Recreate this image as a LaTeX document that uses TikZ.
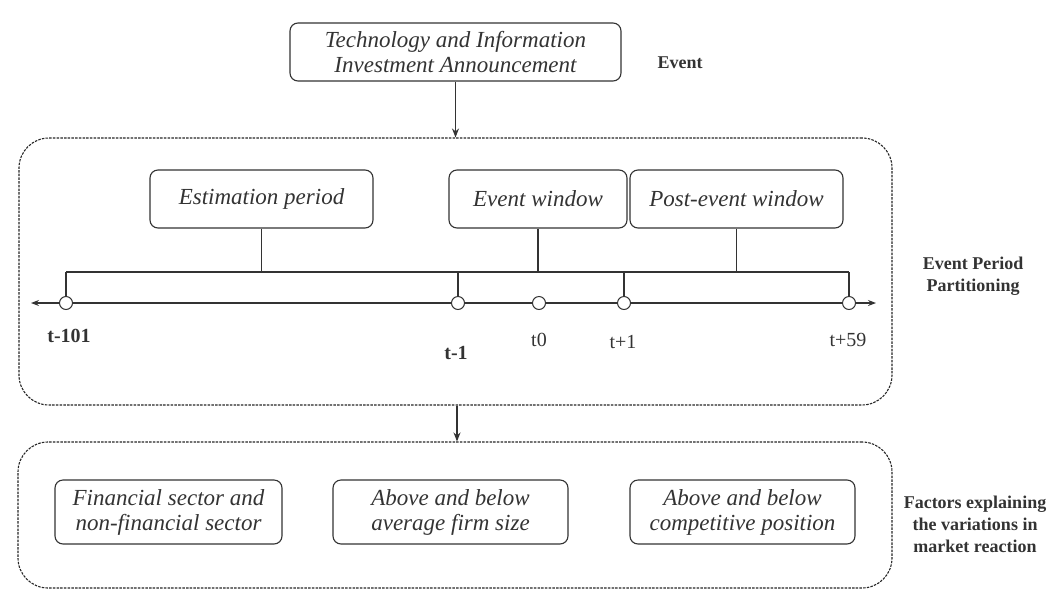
\documentclass[tikz,border=0pt]{standalone}
\usepackage{fontspec}
\setmainfont{Liberation Serif}
\usetikzlibrary{arrows.meta}
\definecolor{ink}{HTML}{333333}

\begin{document}
\begin{tikzpicture}[x=1pt, y=-1pt, ink, line width=1.1pt,
  box/.style={draw, rounded corners=8pt, align=center, inner sep=2pt,
    font=\fontsize{23}{25}\selectfont\itshape},
  dashbox/.style={draw=black!85, dashed, dash pattern=on 2.5pt off 1.2pt, line width=1.1pt, rounded corners=30pt},
  dot/.style={circle, draw, fill=white, line width=1pt, minimum size=13pt, inner sep=0pt},
  tlabel/.style={font=\fontsize{20}{24}\selectfont},
  side/.style={align=center, font=\fontsize{18}{22}\selectfont\bfseries},
  arr/.style={-{Stealth[length=9pt,width=7pt]}}]
\useasboundingbox (0,0) rectangle (1047,590);

% event
\node[box, minimum width=331pt, minimum height=58pt] (ann) at (455.5,52)
  {Technology and Information\\Investment Announcement};
\node[side] (lev) at (680,63) {Event};

% event period partitioning
\node[dashbox, minimum width=873pt, minimum height=267pt] (part) at (455.5,271.5) {};
\node[side] (lpart) at (973,276) {Event Period\\Partitioning};
\node[box, minimum width=223pt, minimum height=58pt] (est) at (261.5,199) {Estimation period};
\node[box, minimum width=178pt, minimum height=58pt] (win) at (538,199) {Event window};
\node[box, minimum width=213pt, minimum height=58pt] (post) at (736.5,199) {Post-event window};

\coordinate (tl) at (31,303);
\coordinate (tr) at (876,303);
\coordinate (bl) at (66,272);
\coordinate (br) at (849,272);
\draw[{Stealth[length=8pt,width=6pt]}-{Stealth[length=8pt,width=6pt]}] (tl) -- (tr);
\draw (bl) -- (br);
\draw (est.south) -- (est.south |- bl);
\draw (win.south) -- (win.south |- bl);
\draw (post.south) -- (post.south |- bl);

\node[dot] (t101) at (66,303) {};
\node[dot] (tm1) at (458,303) {};
\node[dot] (t0) at (539,303) {};
\node[dot] (tp1) at (624,303) {};
\node[dot] (tp59) at (849,303) {};
\foreach \t in {t101,tm1,tp1,tp59}
  \draw (\t.north) -- (\t |- bl);

\node[tlabel, font=\fontsize{20}{24}\selectfont\bfseries] at (69,336) {t-101};
\node[tlabel, font=\fontsize{20}{24}\selectfont\bfseries] at (456,353) {t-1};
\node[tlabel] at (539,340) {t0};
\node[tlabel] at (623,342) {t+1};
\node[tlabel] at (848,340) {t+59};

% factors
\node[dashbox, minimum width=874pt, minimum height=146pt] (fac) at (455,515) {};
\node[side] (lfac) at (975,524) {Factors explaining\\the variations in\\market reaction};
\node[box, minimum width=227pt, minimum height=64pt] (sec) at (168.5,512)
  {Financial sector and\\non-financial sector};
\node[box, minimum width=235pt, minimum height=64pt] (size) at (450.5,512)
  {Above and below\\average firm size};
\node[box, minimum width=225pt, minimum height=64pt] (comp) at (742.5,512)
  {Above and below\\competitive position};

\draw[arr] (ann.south) -- (part.north);
\draw[arr] (part.south -| 457,0) -- (fac.north -| 457,0);
\end{tikzpicture}
\end{document}
